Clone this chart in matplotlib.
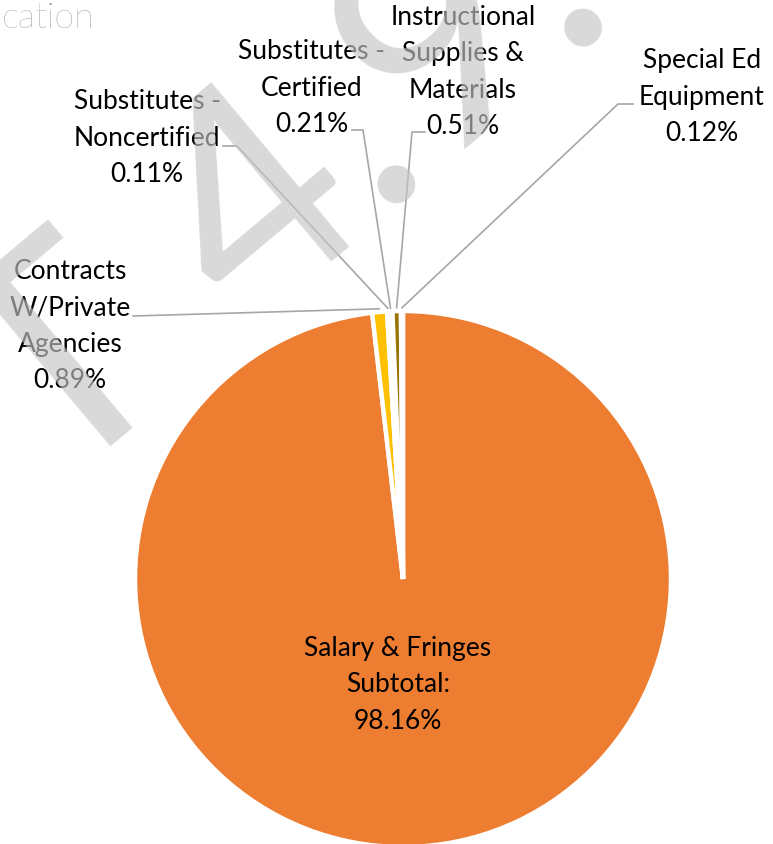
import numpy as np
import matplotlib.pyplot as plt

# slice data (clockwise from 12 o'clock)
labels = ["Salary & Fringes\nSubtotal:", "Contracts\nW/Private\nAgencies",
          "Substitutes -\nNoncertified", "Substitutes -\nCertified",
          "Instructional\nSupplies &\nMaterials", "Special Ed\nEquipment"]
shares = [98.16, 0.89, 0.11, 0.21, 0.51, 0.12]
colors = ['#ED7D31', '#FFC000', '#A5A5A5', '#4472C4', '#997300', '#70AD47']

W, H = 773, 845
cx, cy, r = 403, 580, 268

fig = plt.figure(figsize=(W / 100, H / 100), dpi=100)
ax = fig.add_axes([(cx - r) / W, (H - cy - r) / H, 2 * r / W, 2 * r / H])

wedges, _ = ax.pie(shares, colors=colors, startangle=90, counterclock=False,
                   radius=1, wedgeprops=dict(edgecolor='white', linewidth=3.2))
ax.set_xlim(-1, 1)
ax.set_ylim(-1, 1)
ax.axis('off')

font = 'Lato'
fs = 19
lsp = 1.57


def px2d(px, py):
    return (px - cx) / r, (cy - py) / r


# label layout in pixels: text centre, leader points near the text
label_pos = {
    1: ((70, 326), [(133, 317)]),
    2: ((147, 138), [(223, 147), (237, 147)]),
    3: ((312, 88), [(352, 131), (363, 131)]),
    4: ((463, 72), [(425, 133), (412, 133)]),
    5: ((702, 97), [(633, 105), (618, 105)]),
}

for i, w in enumerate(wedges):
    text = labels[i] + "\n" + f"{shares[i]:.2f}%"
    if i == 0:
        tx, ty = px2d(398, 685)
        ax.text(tx, ty, text, ha='center', va='center', fontsize=fs,
                family=font, linespacing=lsp, color='black')
        continue
    (tpx, tpy), pts = label_pos[i]
    tx, ty = px2d(tpx, tpy)
    ax.text(tx, ty, text, ha='center', va='center', fontsize=fs,
            family=font, linespacing=lsp, color='black', zorder=5)
    mid = np.deg2rad((w.theta1 + w.theta2) / 2)
    xs = [px2d(*p)[0] for p in pts] + [1.012 * np.cos(mid)]
    ys = [px2d(*p)[1] for p in pts] + [1.012 * np.sin(mid)]
    ax.plot(xs, ys, color='#A6A6A6', lw=1.2, clip_on=False, zorder=4)

# title remnant at the top left
fig.text(2 / W, 1 - 18 / H, "cation", ha='left', va='center', fontsize=26,
         family=font, fontweight='light', color='#808080')

# draft watermark
fig.text(622 / W, 1 - 18 / H, "DRAFT 4.9.", rotation=40, rotation_mode='anchor',
         ha='right', va='baseline', fontsize=215, family=font,
         color='#C5C5C5', alpha=0.65, zorder=10)

fig.savefig('out.png', dpi=100)
